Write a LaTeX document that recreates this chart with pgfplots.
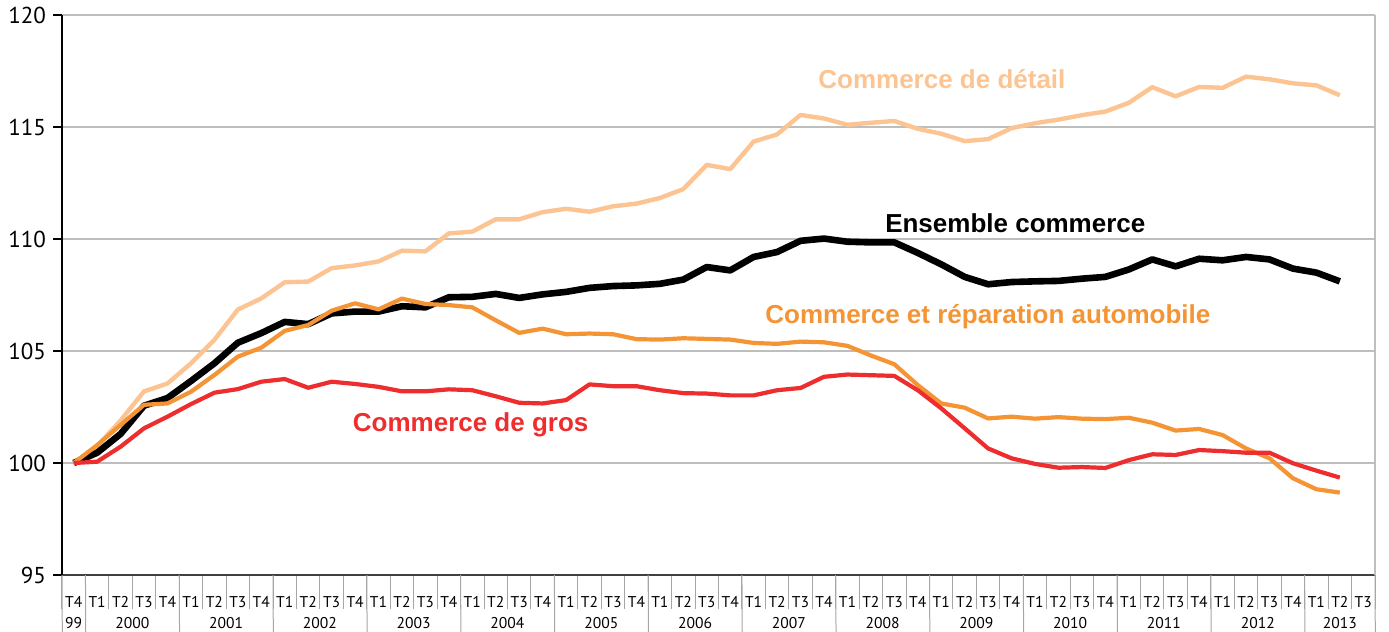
\documentclass[border=0pt]{standalone}
\usepackage{fontspec}
\setmainfont{PT Sans}
\newfontfamily\labfont{Liberation Sans}
\usepackage{pgfplots}
\usepackage{pgfplotstable}
\pgfplotsset{compat=1.18}

\definecolor{detcol}{RGB}{252,196,146}
\definecolor{autocol}{RGB}{245,148,52}
\definecolor{groscol}{RGB}{237,45,46}
\definecolor{gridgray}{RGB}{190,190,190}

% indices trimestriels, base 100 au T4 1999
\pgfplotstableread{
i   det     ens     auto    gros
0   100.00  100.00  100.00  100.00
1   100.75  100.46  100.80  100.06
2   101.90  101.30  101.70  100.73
3   103.20  102.56  102.60  101.55
4   103.55  102.90  102.66  102.07
5   104.45  103.66  103.18  102.63
6   105.50  104.45  103.93  103.14
7   106.85  105.37  104.75  103.30
8   107.35  105.80  105.15  103.63
9   108.07  106.30  105.90  103.75
10  108.10  106.20  106.16  103.36
11  108.70  106.68  106.80  103.63
12  108.82  106.76  107.13  103.53
13  109.00  106.76  106.86  103.40
14  109.48  107.00  107.34  103.20
15  109.45  106.95  107.10  103.20
16  110.25  107.40  107.05  103.29
17  110.33  107.42  106.95  103.25
18  110.88  107.55  106.37  102.98
19  110.88  107.37  105.81  102.69
20  111.20  107.53  106.00  102.66
21  111.35  107.64  105.75  102.81
22  111.22  107.82  105.78  103.51
23  111.46  107.90  105.75  103.43
24  111.58  107.93  105.53  103.43
25  111.83  108.00  105.51  103.25
26  112.23  108.19  105.57  103.12
27  113.31  108.75  105.54  103.10
28  113.12  108.60  105.51  103.02
29  114.35  109.20  105.36  103.02
30  114.67  109.42  105.32  103.25
31  115.54  109.92  105.42  103.35
32  115.38  110.02  105.39  103.85
33  115.10  109.88  105.23  103.95
34  115.19  109.85  104.80  103.92
35  115.27  109.85  104.41  103.89
36  114.92  109.38  103.48  103.25
37  114.70  108.87  102.66  102.44
38  114.37  108.31  102.47  101.55
39  114.46  107.98  101.99  100.65
40  114.95  108.08  102.07  100.21
41  115.17  108.11  101.98  99.96
42  115.33  108.13  102.05  99.79
43  115.53  108.23  101.98  99.82
44  115.69  108.31  101.96  99.78
45  116.08  108.64  102.02  100.13
46  116.78  109.09  101.80  100.39
47  116.37  108.78  101.45  100.36
48  116.79  109.12  101.52  100.58
49  116.75  109.05  101.25  100.53
50  117.25  109.20  100.65  100.46
51  117.13  109.09  100.21  100.46
52  116.95  108.68  99.32   99.99
53  116.86  108.50  98.83   99.66
54  116.42  108.11  98.68   99.35
}\indices

\begin{document}
\begin{tikzpicture}
\useasboundingbox (-31pt,-28.5pt) rectangle (663.5pt,287.5pt);
\begin{axis}[
    at={(0,0)}, anchor=south west,
    scale only axis,
    width=656.5pt, height=280pt,
    xmin=-0.5, xmax=55.5,
    ymin=95, ymax=120,
    clip=false,
    axis x line*=bottom,
    axis y line*=left,
    x axis line style={black!75, line width=0.6pt},
    y axis line style={black, line width=0.6pt},
    ytick={95,100,...,120},
    ymajorgrids,
    grid style={gridgray, line width=0.7pt},
    tick align=outside,
    major tick length=4.5pt,
    minor tick length=17pt,
    every major y tick/.append style={black, line width=0.6pt},
    every major x tick/.append style={draw=none},
    every minor x tick/.append style={gray!70, line width=0.5pt},
    xtick={0,...,55},
    minor xtick={-0.5,0.5,...,55.5},
    xticklabels={T4,
      T1,T2,T3,T4,T1,T2,T3,T4,T1,T2,T3,T4,T1,T2,T3,T4,
      T1,T2,T3,T4,T1,T2,T3,T4,T1,T2,T3,T4,T1,T2,T3,T4,
      T1,T2,T3,T4,T1,T2,T3,T4,T1,T2,T3,T4,T1,T2,T3,T4,
      T1,T2,T3,T4,T1,T2,T3},
    xticklabel style={font=\fontsize{7.8}{9}\selectfont, anchor=base, yshift=-11.5pt},
    yticklabel style={font=\fontsize{11.5}{13}\selectfont},
    /pgf/number format/assume math mode=true,
    extra x ticks={0,2.5,6.5,10.5,14.5,18.5,22.5,26.5,30.5,34.5,38.5,42.5,46.5,50.5,54},
    extra x tick labels={99,2000,2001,2002,2003,2004,2005,2006,2007,2008,2009,2010,2011,2012,2013},
    extra x tick style={major tick length=0pt, xticklabel style={yshift=-15pt}},
    line join=round,
]
\addplot[detcol, line width=2.2pt] table[x=i, y=det] {\indices};
\addplot[black, line width=3.3pt] table[x=i, y=ens] {\indices};
\addplot[autocol, line width=2.1pt] table[x=i, y=auto] {\indices};
\addplot[groscol, line width=2.1pt] table[x=i, y=gros] {\indices};

\pgfplotsinvokeforeach{-0.5,0.5,4.5,8.5,12.5,16.5,20.5,24.5,28.5,32.5,36.5,40.5,44.5,48.5,52.5,55.5}{
  \draw[gray!70, line width=0.5pt] (axis cs:#1,95) -- ++(0,-28.5pt);
}
\draw[gridgray, line width=0.7pt] (axis cs:55.5,95) -- (axis cs:55.5,120);

\begin{scope}[every node/.style={font=\labfont\bfseries\fontsize{13}{15}\selectfont, anchor=base}]
\node[text=detcol] at (axis cs:37.03,116.73) {Commerce de détail};
\node[text=black] at (axis cs:40.16,110.30) {Ensemble commerce};
\node[text=autocol] at (axis cs:38.99,106.24) {Commerce et réparation automobile};
\node[text=groscol] at (axis cs:16.93,101.40) {Commerce de gros};
\end{scope}
\end{axis}
\end{tikzpicture}
\end{document}
